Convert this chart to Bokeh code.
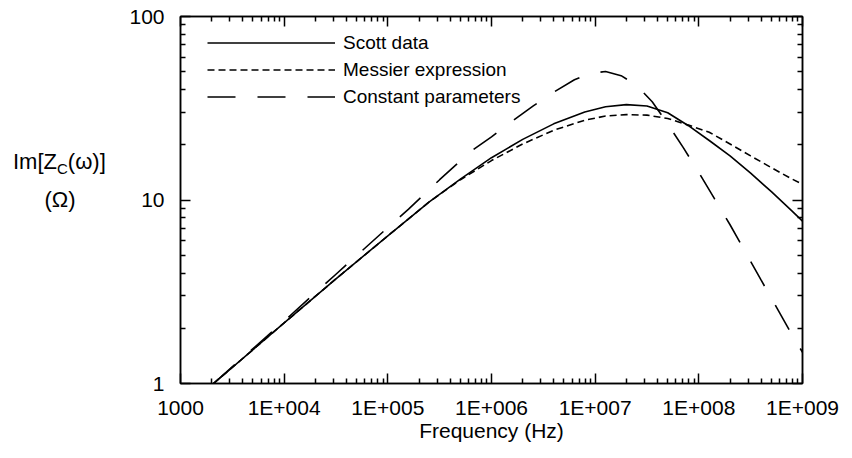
from bokeh.plotting import figure
from bokeh.models import FixedTicker, LogAxis, CustomJSTickFormatter, Div
from bokeh.layouts import row
from bokeh.embed import file_html
from bokeh.resources import INLINE

# ---- data ----
scott_f = [2.08e3, 5.01e3, 1.0e4, 3.16e4, 1.0e5, 2.51e5, 5.01e5, 1.0e6, 2.0e6,
           3.98e6, 7.94e6, 1.26e7, 2.0e7, 3.16e7, 5.01e7, 7.94e7, 1.26e8,
           2.0e8, 3.16e8, 5.01e8, 7.94e8, 1.0e9]
scott_z = [1.00, 1.53, 2.14, 3.72, 6.38, 9.77, 13.0, 17.0, 21.4,
           26.0, 30.2, 32.2, 33.1, 32.5, 29.9, 25.4, 21.1,
           17.4, 14.0, 11.1, 8.7, 7.67]

messier_f = [2.08e3, 5.01e3, 1.0e4, 3.16e4, 1.0e5, 2.51e5, 5.01e5, 1.0e6, 2.0e6,
             3.98e6, 7.94e6, 1.26e7, 2.0e7, 3.16e7, 5.01e7, 7.94e7, 1.26e8,
             2.0e8, 3.16e8, 5.01e8, 7.94e8, 1.0e9]
messier_z = [1.00, 1.53, 2.14, 3.72, 6.38, 9.77, 12.9, 16.4, 20.2,
             24.0, 27.2, 28.7, 29.2, 29.0, 27.8, 25.6, 23.4,
             20.2, 17.4, 15.0, 13.0, 12.2]

const_f = [2.08e3, 5.01e3, 1.0e4, 3.16e4, 1.0e5, 1.585e5, 3.16e5, 6.31e5, 1.0e6,
           1.585e6, 2.51e6, 3.98e6, 6.31e6, 8.91e6, 1.26e7, 1.78e7, 2.51e7,
           3.55e7, 5.01e7, 7.08e7, 1.0e8, 1.41e8, 2.0e8, 2.82e8, 3.98e8,
           5.62e8, 7.94e8, 1.0e9]
const_z = [1.00, 1.55, 2.19, 3.94, 7.08, 8.91, 12.9, 18.4, 22.1,
           26.9, 32.5, 38.7, 45.2, 49.0, 50.1, 47.6, 42.2,
           34.3, 26.0, 19.3, 14.1, 10.2, 7.33, 5.19, 3.67,
           2.60, 1.84, 1.48]

x_ticks = [1e3, 1e4, 1e5, 1e6, 1e7, 1e8, 1e9]
x_tick_labels = ["1000", "1E+004", "1E+005", "1E+006", "1E+007", "1E+008", "1E+009"]
y_ticks = [1, 10, 100]
y_tick_labels = ["1", "10", "100"]

FONT = "Liberation Sans"
DIV_W = 120

x_minor = [m * t for t in x_ticks[:-1] for m in range(2, 10)]
y_minor = [m * t for t in y_ticks[:-1] for m in range(2, 10)]

p = figure(width=852 - DIV_W, height=458, x_axis_type="log", y_axis_type="log",
           x_range=(1e3, 1e9), y_range=(1, 100),
           output_backend="svg", toolbar_location=None,
           min_border_left=180 - DIV_W, min_border_right=50,
           min_border_top=16, min_border_bottom=75)
p.background_fill_color = "white"
p.border_fill_color = "white"
p.outline_line_color = "black"
p.outline_line_width = 1.5
p.xgrid.visible = False
p.ygrid.visible = False


def style_axis(ax, ticks, minor, labels):
    ax.ticker = FixedTicker(ticks=ticks, minor_ticks=minor)
    ax.axis_line_color = "black"
    ax.axis_line_width = 1.5
    ax.major_tick_line_color = "black"
    ax.major_tick_line_width = 1.5
    ax.minor_tick_line_color = "black"
    ax.minor_tick_line_width = 1.5
    ax.major_tick_in = 10
    ax.major_tick_out = 0
    ax.minor_tick_in = 5
    ax.minor_tick_out = 0
    if labels is None:
        ax.formatter = CustomJSTickFormatter(code="return ''")
    else:
        ax.major_label_overrides = {t: l for t, l in zip(ticks, labels)}
        ax.major_label_text_font = FONT
        ax.major_label_text_font_size = "21px"
        ax.major_label_text_color = "black"


xa = p.xaxis[0]
style_axis(xa, x_ticks, x_minor, x_tick_labels)
xa.major_label_standoff = 12
xa.axis_label = "Frequency (Hz)"
xa.axis_label_text_font = FONT
xa.axis_label_text_font_size = "21px"
xa.axis_label_text_font_style = "normal"
xa.axis_label_text_color = "black"
xa.axis_label_standoff = -3

ya = p.yaxis[0]
style_axis(ya, y_ticks, y_minor, y_tick_labels)
ya.major_label_standoff = 16

top = LogAxis()
style_axis(top, x_ticks, x_minor, None)
p.add_layout(top, "above")
right = LogAxis()
style_axis(right, y_ticks, y_minor, None)
p.add_layout(right, "right")

p.line(scott_f, scott_z, line_color="black", line_width=1.6, legend_label="Scott data")
p.line(messier_f, messier_z, line_color="black", line_width=1.6, line_dash="7 4",
       legend_label="Messier expression")
p.line(const_f, const_z, line_color="black", line_width=1.6, line_dash="28 22",
       legend_label="Constant parameters")

lg = p.legend[0]
lg.location = (27, 273)
lg.padding = 0
lg.margin = 0
lg.spacing = 0
lg.glyph_width = 128
lg.glyph_height = 27
lg.label_height = 27
lg.label_standoff = 8
lg.label_text_font = FONT
lg.label_text_font_size = "19px"
lg.label_text_color = "black"
lg.background_fill_alpha = 0
lg.border_line_color = None

# y-axis title (with a real subscript) in a side panel
ylabel_html = (
    f'<div style="position:relative;width:{DIV_W}px;height:458px;'
    f'font-family:\'{FONT}\';color:black;margin:0;padding:0;">'
    '<div style="position:absolute;left:13px;top:151px;font-size:22px;line-height:22px;'
    'white-space:nowrap;">Im[Z<span style="font-size:15px;position:relative;top:5px;">C</span>(ω)]</div>'
    f'<div style="position:absolute;left:0;top:189px;width:{DIV_W}px;text-align:center;'
    'font-size:22px;line-height:22px;white-space:nowrap;">(Ω)</div>'
    '</div>'
)
ylab = Div(text=ylabel_html, width=DIV_W, height=458, margin=0)

layout = row(ylab, p, spacing=0)
open("out.html", "w").write(file_html(layout, INLINE))
